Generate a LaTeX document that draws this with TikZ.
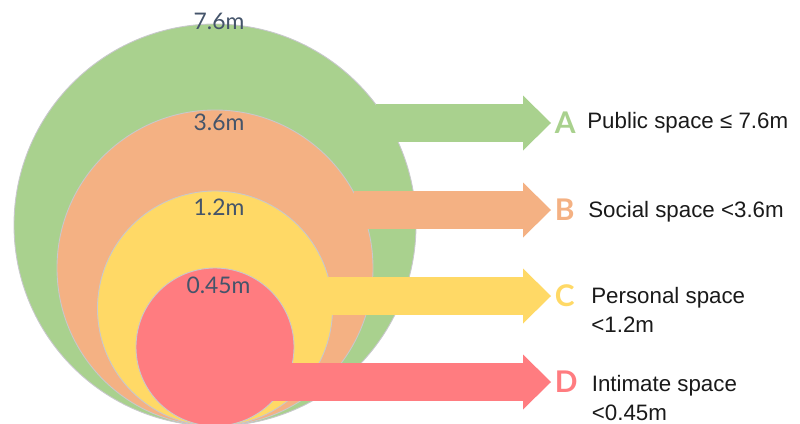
\documentclass[tikz,border=0pt]{standalone}
\usepackage{fontspec}
\setmainfont{Liberation Sans}
\newfontfamily\latofont{Lato}
\usetikzlibrary{arrows.meta}
\definecolor{pubfill}{HTML}{A9D18E}
\definecolor{socfill}{HTML}{F4B183}
\definecolor{perfill}{HTML}{FFD966}
\definecolor{intfill}{HTML}{FF7C80}
\definecolor{ringline}{HTML}{C8C8CC}
\definecolor{distcol}{HTML}{44546A}
\definecolor{labtext}{HTML}{1A1A1A}

\begin{document}
\begin{tikzpicture}[
  zone/.style={circle, draw=ringline, line width=0.5pt, inner sep=0pt},
  arr/.style={line width=0.76cm, -{Triangle[length=0.56cm, width=1.10cm, line width=0pt]}},
  dist/.style={font=\latofont\fontsize{13}{15}\selectfont, text=distcol, inner sep=0pt, anchor=base},
  tag/.style={font=\latofont\bfseries\fontsize{17}{20}\selectfont, inner sep=2pt, anchor=west},
  lbl/.style={font=\fontsize{12.7}{16.5}\selectfont, text=labtext, align=left, inner sep=0pt, anchor=north west}
]
  \useasboundingbox (0,0) rectangle (16,-8.46);

  % nested zones
  \node[zone, fill=pubfill, minimum size=8.04cm] (ringA) at (4.30,-4.50) {};
  \node[zone, fill=socfill, minimum size=6.32cm] (ringB) at (4.30,-5.36) {};
  \node[zone, fill=perfill, minimum size=4.70cm] (ringC) at (4.30,-6.17) {};
  \node[zone, fill=intfill, minimum size=3.16cm] (ringD) at (4.30,-6.94) {};

  % distances
  \node[dist] (dA) at (4.38,-0.60) {7.6m};
  \node[dist] (dB) at (4.38,-2.62) {3.6m};
  \node[dist] (dC) at (4.38,-4.30) {1.2m};
  \node[dist] (dD) at (4.37,-5.86) {0.45m};

  % letters and texts
  \node[tag, text=pubfill] (letA) at (11.02,-2.46) {A};
  \node[tag, text=socfill] (letB) at (11.02,-4.20) {B};
  \node[tag, text=perfill] (letC) at (11.02,-5.92) {C};
  \node[tag, text=intfill] (letD) at (11.02,-7.64) {D};
  \node[lbl] (labA) at (11.74,-2.24) {Public space ≤ 7.6m};
  \node[lbl] (labB) at (11.76,-4.02) {Social space <3.6m};
  \node[lbl] (labC) at (11.82,-5.74) {Personal space\\<1.2m};
  \node[lbl] (labD) at (11.83,-7.50) {Intimate space\\<0.45m};

  % arrows
  \draw[arr, pubfill] (ringA.37 |- letA.west) -- (letA.west);
  \draw[arr, socfill] (ringB.29 |- letB.west) -- (letB.west);
  \draw[arr, perfill] (ringC.16 |- letC.west) -- (letC.west);
  \draw[arr, intfill] (ringD.-50 |- letD.west) -- (letD.west);
\end{tikzpicture}
\end{document}
